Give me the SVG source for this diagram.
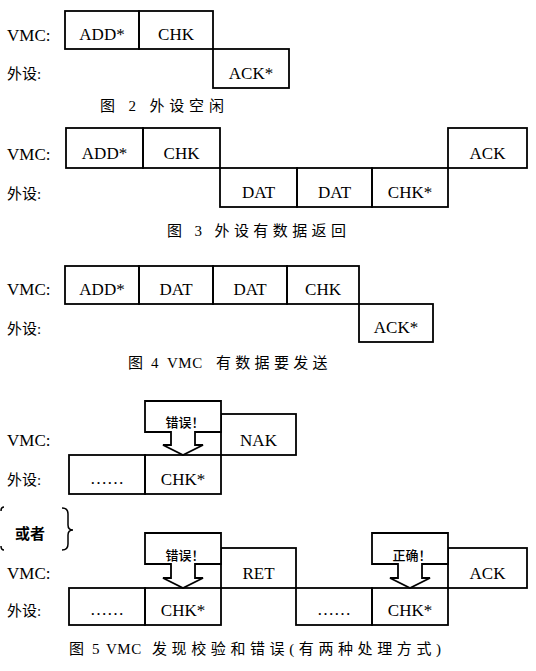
<svg xmlns="http://www.w3.org/2000/svg" width="536" height="671" viewBox="0 0 536 671">
<style>
.b{fill:none;stroke:#000;stroke-width:1.8}
.c{fill:#fff;stroke:#000;stroke-width:1.8;stroke-linejoin:miter}
.t{font-family:"Liberation Serif","Noto Sans CJK SC",serif;font-size:17px;text-anchor:middle;fill:#000}
.l{font-family:"Liberation Serif","Noto Sans CJK SC",serif;font-size:17px;fill:#000}
.z{font-family:"Liberation Serif","Noto Sans CJK SC",serif;font-size:15px;fill:#000}
.cap{font-family:"Liberation Serif","Noto Sans CJK SC",serif;font-size:15px;fill:#000}
.co{font-family:"Noto Sans CJK SC",sans-serif;font-size:13px;text-anchor:middle;fill:#000;font-weight:500}
.br{fill:none;stroke:#000;stroke-width:1.5}
</style>
<rect width="536" height="671" fill="#fff"/>

<!-- Figure 2 -->
<g id="fig2">
  <text class="l" x="7" y="41">VMC:</text>
  <text class="z" x="7" y="79">外设:</text>
  <g id="f2-add"><rect class="b" x="65" y="11" width="74" height="38"/><text class="t" x="102" y="40">ADD*</text></g>
  <g id="f2-chk"><rect class="b" x="139" y="11" width="74" height="38"/><text class="t" x="176" y="40">CHK</text></g>
  <g id="f2-ack"><rect class="b" x="213" y="49" width="76" height="39"/><text class="t" x="251" y="79">ACK*</text></g>
  <text class="cap" x="100" y="111" textLength="124" lengthAdjust="spacing">图 2 外设空闲</text>
</g>

<!-- Figure 3 -->
<g id="fig3">
  <text class="l" x="7" y="160">VMC:</text>
  <text class="z" x="7" y="199">外设:</text>
  <g id="f3-add"><rect class="b" x="66" y="128" width="77" height="40"/><text class="t" x="104.5" y="159">ADD*</text></g>
  <g id="f3-chk"><rect class="b" x="143" y="128" width="77" height="40"/><text class="t" x="181.5" y="159">CHK</text></g>
  <g id="f3-dat1"><rect class="b" x="220" y="168" width="77" height="39"/><text class="t" x="258.5" y="198">DAT</text></g>
  <g id="f3-dat2"><rect class="b" x="297" y="168" width="75" height="39"/><text class="t" x="334.5" y="198">DAT</text></g>
  <g id="f3-chk2"><rect class="b" x="372" y="168" width="76" height="39"/><text class="t" x="410" y="198">CHK*</text></g>
  <g id="f3-ack"><rect class="b" x="448" y="128" width="79" height="40"/><text class="t" x="487.5" y="159">ACK</text></g>
  <text class="cap" x="167" y="236" textLength="179" lengthAdjust="spacing">图 3 外设有数据返回</text>
</g>

<!-- Figure 4 -->
<g id="fig4">
  <text class="l" x="7" y="295">VMC:</text>
  <text class="z" x="7" y="334">外设:</text>
  <g id="f4-add"><rect class="b" x="65" y="266" width="74" height="38"/><text class="t" x="102" y="295">ADD*</text></g>
  <g id="f4-dat1"><rect class="b" x="139" y="266" width="74" height="38"/><text class="t" x="176" y="295">DAT</text></g>
  <g id="f4-dat2"><rect class="b" x="213" y="266" width="74" height="38"/><text class="t" x="250" y="295">DAT</text></g>
  <g id="f4-chk"><rect class="b" x="287" y="266" width="72" height="38"/><text class="t" x="323" y="295">CHK</text></g>
  <g id="f4-ack"><rect class="b" x="359" y="304" width="74" height="38"/><text class="t" x="396" y="333">ACK*</text></g>
  <text class="cap" y="368"><tspan x="128">图 </tspan><tspan x="151">4 </tspan><tspan x="167" letter-spacing="0.5">VMC </tspan><tspan x="216" letter-spacing="4.3">有数据要发送</tspan></text>
</g>

<!-- Figure 5a -->
<g id="fig5a">
  <text class="l" x="7" y="446">VMC:</text>
  <text class="z" x="7" y="485">外设:</text>
  <g id="f5a-dots"><rect class="b" x="69" y="455" width="76" height="39"/><text class="t" x="107" y="484">……</text></g>
  <g id="f5a-chk"><rect class="b" x="145" y="455" width="76" height="39"/><text class="t" x="183" y="485">CHK*</text></g>
  <g id="f5a-nak"><rect class="b" x="221" y="414" width="75" height="41"/><text class="t" x="258.5" y="446">NAK</text></g>
  <g id="f5a-err"><path class="c" d="M145,401 H221 V432 H195 V445 H203 L183,455 L163,445 H171 V432 H145 Z"/><text class="co" x="185" y="427">错误！</text></g>
</g>

<!-- or -->
<g id="or">
  <path class="br" d="M4,507 Q1,507 1,511 M1,546 Q1,550 4,550" stroke-width="1"/>
  <text class="z" x="15" y="539" font-weight="bold">或者</text>
  <path class="br" d="M62,508 Q68,508 68,514 V525 Q68,530 73,530 Q68,530 68,535 V544 Q68,550 62,550"/>
</g>

<!-- Figure 5b -->
<g id="fig5b">
  <text class="l" x="7" y="579">VMC:</text>
  <text class="z" x="7" y="616">外设:</text>
  <g id="f5b-dots1"><rect class="b" x="69" y="588" width="76" height="37"/><text class="t" x="107" y="615">……</text></g>
  <g id="f5b-chk1"><rect class="b" x="145" y="588" width="76" height="37"/><text class="t" x="183" y="616">CHK*</text></g>
  <g id="f5b-ret"><rect class="b" x="221" y="548" width="75" height="40"/><text class="t" x="258.5" y="579">RET</text></g>
  <g id="f5b-dots2"><rect class="b" x="296" y="588" width="76" height="37"/><text class="t" x="334" y="615">……</text></g>
  <g id="f5b-chk2"><rect class="b" x="372" y="588" width="76" height="37"/><text class="t" x="410" y="616">CHK*</text></g>
  <g id="f5b-ack"><rect class="b" x="448" y="548" width="79" height="40"/><text class="t" x="487.5" y="579">ACK</text></g>
  <g id="f5b-err"><path class="c" d="M145,533 H221 V564 H195 V578 H203 L183,588 L163,578 H171 V564 H145 Z"/><text class="co" x="185" y="560">错误！</text></g>
  <g id="f5b-ok"><path class="c" d="M372,533 H448 V564 H422 V578 H430 L410,588 L390,578 H398 V564 H372 Z"/><text class="co" x="412" y="560">正确！</text></g>
  <text class="cap" y="654"><tspan x="69">图 </tspan><tspan x="92">5 </tspan><tspan x="106" letter-spacing="0.5">VMC </tspan><tspan x="152" letter-spacing="4.6">发现校验和错误(有两种处理方式)</tspan></text>
</g>
<g id="connectors"></g>
</svg>
